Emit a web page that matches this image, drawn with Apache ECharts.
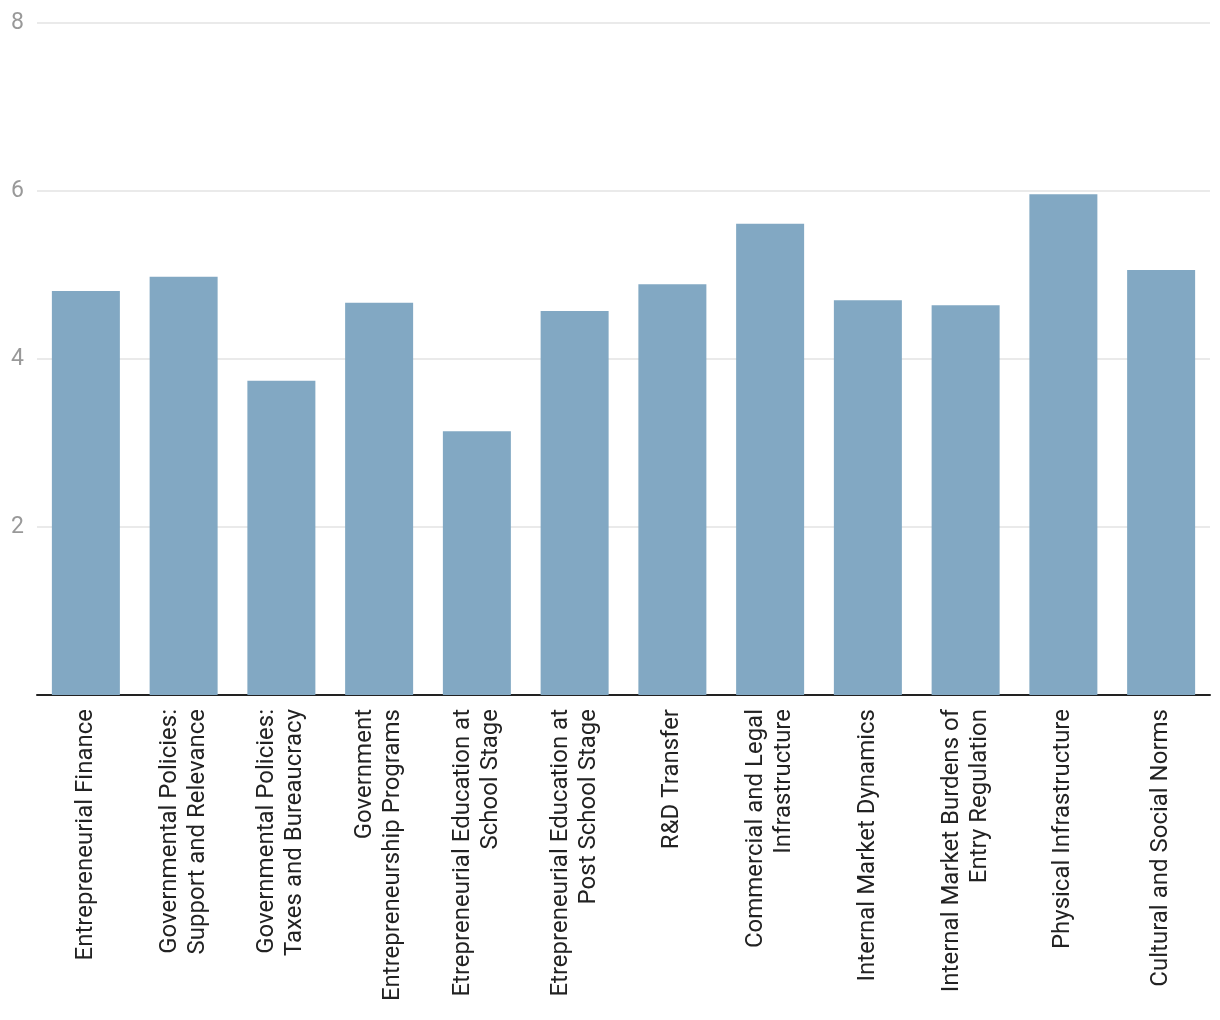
<!DOCTYPE html>
<html><head><meta charset="utf-8">
<script src="https://cdn.jsdelivr.net/npm/echarts@6/dist/echarts.min.js"></script>
<style>html,body{margin:0;padding:0;background:#fff}#c{width:1220px;height:1020px}</style>
</head><body><div id="c"></div>
<script>
const categories = [
  "Entrepreneurial Finance",
  "Governmental Policies:\nSupport and Relevance",
  "Governmental Policies:\nTaxes and Bureaucracy",
  "Government\nEntrepreneurship Programs",
  "Etrepreneurial Education at\nSchool Stage",
  "Etrepreneurial Education at\nPost School Stage",
  "R&D Transfer",
  "Commercial and Legal\nInfrastructure",
  "Internal Market Dynamics",
  "Internal Market Burdens of\nEntry Regulation",
  "Physical Infrastructure",
  "Cultural and Social Norms"
];
const values = [4.81, 4.98, 3.74, 4.67, 3.14, 4.57, 4.89, 5.61, 4.70, 4.64, 5.96, 5.06];
const yMin = 0, yMax = 8, yInterval = 2;

const chart = echarts.init(document.getElementById('c'));
chart.setOption({
  animation: false,
  grid: {left: 37, right: 10, top: 23, bottom: 325, containLabel: false},
  xAxis: {
    type: 'category', data: categories,
    axisLine: {lineStyle: {color: '#222', width: 2}},
    axisTick: {show: false},
    axisLabel: {rotate: 90, interval: 0, margin: 14, color: '#222', fontSize: 24, fontFamily: 'Roboto', lineHeight: 28}
  },
  yAxis: {
    type: 'value', min: yMin, max: yMax, interval: yInterval,
    axisLine: {show: false}, axisTick: {show: false},
    splitLine: {lineStyle: {color: '#e3e3e3', width: 1.5}},
    axisLabel: {color: '#999', fontSize: 23, fontFamily: 'Roboto', margin: 13,
      formatter: v => v === 0 ? '' : String(v)}
  },
  series: [{type: 'bar', data: values, barWidth: 68, itemStyle: {color: '#82a8c3'}}]
});
</script></body></html>
